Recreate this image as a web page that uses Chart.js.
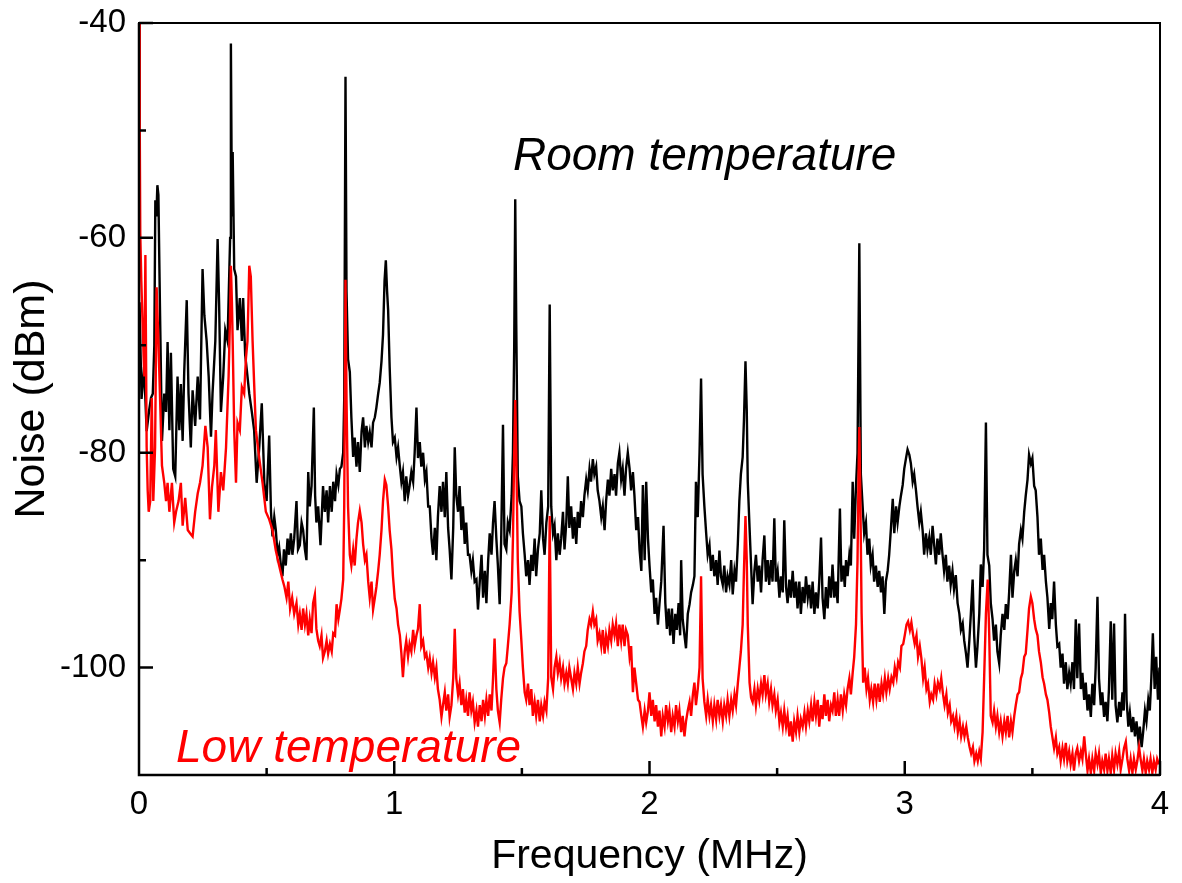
<!DOCTYPE html>
<html lang="en">
<head>
  <meta charset="UTF-8" />
  <title>Noise spectrum</title>
  <script src="https://cdn.jsdelivr.net/npm/chart.js"></script>
  <style>
    html, body {
      margin: 0;
      padding: 0;
      background: #ffffff;
    }
    #wrap {
      width: 1182px;
      height: 883px;
    }
  </style>
</head>
<body>
  <div id="wrap">
    <canvas id="noiseChart" width="1182" height="883"></canvas>
  </div>

<script>
  // ticks
  const xMajorTicks = [0, 1, 2, 3, 4];
  const xMinorTicks = [0.5, 1.5, 2.5, 3.5];
  const yMajorTicks = [-100, -80, -60, -40];
  const yMinorTicks = [-90, -70, -50];

  // [frequency MHz, noise dBm]
  const roomTemp = [
    [0.002,-66],[0.010,-75],[0.020,-72],[0.030,-78],[0.040,-76],[0.047,-74.9],[0.054,-74.5],[0.060,-70],
    [0.064,-56.5],[0.068,-58],[0.072,-55.1],[0.076,-56],[0.082,-66.3],[0.090,-78.9],[0.099,-74.5],[0.106,-76.2],
    [0.112,-69.7],[0.119,-77.9],[0.125,-70.7],[0.134,-81.5],[0.142,-82.2],[0.151,-72.9],[0.158,-77.9],[0.164,-73.6],
    [0.171,-78.9],[0.177,-72.6],[0.187,-65.8],[0.194,-74.5],[0.203,-79.5],[0.210,-74.2],[0.220,-77.5],[0.230,-72.9],
    [0.239,-76.9],[0.249,-62.9],[0.256,-67.2],[0.265,-69.6],[0.273,-72.9],[0.282,-78.5],[0.288,-74.5],[0.299,-69.6],
    [0.308,-60.1],[0.314,-66.3],[0.321,-76.2],[0.330,-72.9],[0.338,-68.6],[0.347,-69.6],[0.354,-62.9],[0.357,-60],
    [0.360,-41.9],[0.364,-58],[0.367,-52.0],[0.373,-62.9],[0.380,-63.6],[0.386,-68.6],[0.395,-65.6],[0.403,-69.6],
    [0.408,-65.6],[0.416,-70.9],[0.425,-72.9],[0.432,-74.5],[0.442,-76.2],[0.451,-77.9],[0.461,-82.8],[0.471,-79.5],
    [0.481,-75.4],[0.491,-82.8],[0.500,-84.5],[0.510,-78.4],[0.517,-85.5],[0.523,-87.8],[0.530,-86],[0.536,-87.2],
    [0.543,-89.5],[0.549,-88.8],[0.556,-90.5],[0.562,-91.5],[0.568,-89],[0.575,-90.5],[0.582,-88],[0.588,-89.5],
    [0.595,-87.5],[0.601,-89.5],[0.608,-88],[0.617,-84.5],[0.623,-89],[0.630,-88.6],[0.637,-86.5],[0.643,-87.2],
    [0.650,-89],[0.656,-90.0],[0.663,-81.8],[0.669,-85.0],[0.676,-83.1],[0.685,-75.8],[0.690,-84],[0.695,-86.5],
    [0.702,-85.0],[0.711,-88.6],[0.721,-83.1],[0.728,-85.5],[0.735,-83.5],[0.741,-86.5],[0.748,-83.1],[0.755,-85.5],
    [0.761,-82.7],[0.768,-84.5],[0.774,-82.0],[0.781,-83],[0.787,-81.5],[0.793,-81.3],[0.800,-80],[0.804,-75],
    [0.809,-45.0],[0.813,-65],[0.819,-71.3],[0.826,-72.5],[0.832,-76.7],[0.839,-80.4],[0.845,-78.6],[0.852,-81.3],
    [0.858,-79],[0.865,-81.8],[0.872,-78],[0.878,-76.7],[0.885,-79.5],[0.891,-77.5],[0.898,-79.0],[0.904,-78.1],
    [0.911,-79.5],[0.917,-77.2],[0.924,-76.7],[0.930,-75.8],[0.937,-74.5],[0.943,-73.5],[0.950,-71.5],[0.956,-69.0],
    [0.962,-64],[0.967,-62.1],[0.972,-65],[0.976,-66.7],[0.982,-72],[0.989,-76.7],[0.995,-79],[1.002,-78.6],
    [1.009,-80.4],[1.015,-79.5],[1.022,-81.3],[1.028,-82.7],[1.034,-81.8],[1.041,-84.5],[1.047,-82.2],[1.054,-84],
    [1.060,-83.1],[1.067,-81.8],[1.074,-82.7],[1.080,-80],[1.087,-75.8],[1.093,-80.5],[1.100,-79.0],[1.106,-81.3],
    [1.113,-80.0],[1.120,-82.5],[1.126,-81.8],[1.133,-85],[1.139,-85.0],[1.146,-88],[1.152,-89.5],[1.159,-87],
    [1.165,-90.0],[1.171,-86],[1.178,-83.1],[1.185,-85.5],[1.191,-82.7],[1.198,-86],[1.204,-81.8],[1.211,-87],
    [1.217,-89],[1.224,-91.8],[1.231,-87],[1.237,-79.5],[1.243,-84],[1.250,-85.5],[1.256,-83.1],[1.263,-87.2],
    [1.269,-85.0],[1.276,-88.5],[1.282,-86.5],[1.289,-89.5],[1.295,-89.5],[1.302,-91],[1.308,-90.0],[1.315,-92],
    [1.322,-91.8],[1.328,-94.6],[1.335,-92],[1.342,-89.5],[1.348,-93.5],[1.355,-91],[1.361,-94],[1.368,-90],
    [1.374,-87.5],[1.381,-89.5],[1.387,-86.5],[1.393,-84.5],[1.400,-88],[1.406,-90.5],[1.413,-94.1],[1.419,-88],
    [1.426,-77.4],[1.432,-88.5],[1.439,-89.0],[1.445,-86.5],[1.452,-87.2],[1.460,-84],[1.465,-80],[1.470,-70],
    [1.474,-56.4],[1.478,-68],[1.484,-82.2],[1.491,-84.5],[1.498,-85.0],[1.504,-87.5],[1.511,-89.5],[1.517,-91.5],
    [1.524,-90],[1.530,-92.3],[1.537,-89.5],[1.543,-91],[1.550,-88],[1.556,-91.5],[1.563,-89],[1.570,-87.5],
    [1.576,-83.5],[1.583,-88],[1.589,-89.5],[1.596,-86.5],[1.603,-85],[1.609,-66.2],[1.615,-85.0],[1.622,-87.5],
    [1.628,-86.8],[1.635,-90],[1.641,-87.5],[1.648,-89.5],[1.654,-88],[1.661,-85.5],[1.667,-89],[1.674,-86.5],
    [1.680,-82.2],[1.686,-87],[1.693,-85.0],[1.700,-88],[1.706,-86],[1.713,-88.5],[1.719,-85.5],[1.726,-87],
    [1.732,-84.5],[1.739,-86],[1.745,-84],[1.752,-82.5],[1.758,-83.5],[1.765,-81.5],[1.771,-82.7],[1.778,-80.6],
    [1.784,-82],[1.791,-81.3],[1.797,-83.5],[1.804,-84.5],[1.811,-86],[1.817,-85.0],[1.824,-87.2],[1.830,-84.5],
    [1.837,-82.5],[1.843,-84],[1.850,-81.5],[1.856,-83.5],[1.863,-82],[1.869,-84],[1.876,-81],[1.882,-80.0],
    [1.889,-82.5],[1.895,-81.5],[1.902,-84],[1.908,-81.5],[1.915,-80.0],[1.922,-81.5],[1.928,-83.5],[1.935,-81.8],
    [1.941,-84],[1.948,-87.2],[1.955,-86],[1.961,-89],[1.968,-91],[1.974,-83],[1.981,-90],[1.987,-82.7],
    [1.994,-88],[2.000,-90.5],[2.007,-93],[2.013,-91.8],[2.020,-95],[2.026,-93.5],[2.033,-96],[2.039,-94.1],
    [2.046,-92],[2.055,-86.8],[2.062,-94],[2.068,-96.4],[2.075,-94.5],[2.081,-97],[2.088,-94.5],[2.094,-97.8],
    [2.101,-95],[2.107,-96.5],[2.114,-94],[2.120,-97],[2.124,-90.0],[2.130,-95.5],[2.137,-97],[2.143,-98.2],
    [2.150,-95],[2.157,-94.1],[2.163,-93],[2.170,-92.3],[2.176,-91.5],[2.182,-82.7],[2.189,-86],[2.196,-80],
    [2.202,-73.1],[2.208,-82],[2.215,-85.0],[2.222,-87.5],[2.228,-89.5],[2.235,-88.6],[2.241,-91],[2.248,-89.5],
    [2.254,-91.5],[2.261,-90],[2.267,-92.3],[2.274,-89.1],[2.280,-91.5],[2.287,-92.3],[2.293,-90.5],[2.300,-93],
    [2.306,-91.5],[2.313,-92.3],[2.320,-90],[2.326,-93.2],[2.333,-91],[2.339,-92],[2.346,-88.5],[2.352,-84.5],
    [2.358,-82],[2.365,-80.4],[2.370,-77],[2.376,-71.5],[2.381,-76],[2.385,-82.7],[2.392,-87],[2.398,-90.5],
    [2.404,-94.1],[2.411,-91],[2.417,-89.5],[2.424,-92],[2.430,-90.5],[2.437,-93],[2.443,-90],[2.450,-87.7],
    [2.456,-92],[2.463,-90],[2.469,-92.3],[2.476,-90],[2.482,-92],[2.489,-86.1],[2.495,-92],[2.502,-91],
    [2.509,-93.5],[2.515,-91.5],[2.522,-93],[2.528,-86.3],[2.535,-92.5],[2.541,-94],[2.548,-91.8],[2.554,-93.5],
    [2.561,-91],[2.567,-93.5],[2.574,-92],[2.580,-94.5],[2.587,-92],[2.593,-95],[2.600,-92.5],[2.607,-94],
    [2.613,-91.5],[2.620,-93.5],[2.626,-92.3],[2.633,-94.5],[2.639,-92],[2.646,-95],[2.652,-93],[2.659,-94.5],
    [2.665,-92],[2.672,-87.9],[2.678,-93.5],[2.685,-95.5],[2.691,-92.5],[2.698,-94.5],[2.704,-91.5],[2.711,-93.5],
    [2.717,-90.4],[2.724,-93.5],[2.730,-92],[2.737,-94],[2.746,-85.2],[2.752,-92],[2.759,-90.5],[2.765,-92.5],
    [2.770,-90],[2.776,-91.5],[2.783,-89.5],[2.789,-90.5],[2.796,-82.7],[2.802,-88],[2.809,-83.1],[2.815,-80],
    [2.822,-60.5],[2.828,-82],[2.835,-85.0],[2.841,-87.5],[2.848,-86.5],[2.854,-89.5],[2.861,-88],[2.867,-90.5],
    [2.874,-89.5],[2.880,-92],[2.887,-90.5],[2.894,-92.5],[2.900,-91],[2.907,-93],[2.913,-91.5],[2.920,-95.0],
    [2.926,-92],[2.933,-91],[2.939,-89.5],[2.946,-87],[2.953,-84.3],[2.959,-87.5],[2.966,-85.0],[2.972,-86.5],
    [2.979,-85],[2.985,-84],[2.992,-83],[2.998,-81.5],[3.005,-80.5],[3.011,-79.7],[3.018,-80.2],[3.024,-81],
    [3.031,-82.7],[3.037,-82],[3.044,-83.5],[3.050,-85],[3.057,-86.5],[3.063,-85.5],[3.070,-87.2],[3.076,-89.5],
    [3.083,-87.5],[3.089,-89],[3.096,-87.9],[3.102,-89.5],[3.109,-86.8],[3.115,-88.5],[3.122,-90.4],[3.128,-88],
    [3.135,-89.5],[3.141,-87.5],[3.148,-89.5],[3.154,-91],[3.161,-89.5],[3.167,-92],[3.174,-90.5],[3.180,-92.3],
    [3.187,-91],[3.193,-92.7],[3.200,-91.4],[3.207,-94],[3.214,-95],[3.220,-96.5],[3.227,-95.9],[3.233,-97.5],
    [3.240,-98.7],[3.246,-100],[3.253,-97.5],[3.259,-95],[3.266,-91.8],[3.272,-97],[3.279,-100],[3.285,-98],
    [3.292,-95],[3.298,-90.4],[3.305,-92.5],[3.311,-89],[3.318,-77.2],[3.324,-89.5],[3.331,-90.5],[3.337,-94],
    [3.344,-95.5],[3.350,-97.5],[3.357,-96],[3.363,-98.5],[3.370,-99.6],[3.376,-97],[3.383,-95],[3.390,-96.5],
    [3.396,-94.1],[3.403,-95.5],[3.409,-93],[3.416,-89.5],[3.422,-93.5],[3.429,-91],[3.435,-90],[3.442,-91.5],
    [3.448,-88.5],[3.455,-87.2],[3.461,-88],[3.468,-85.5],[3.474,-84],[3.481,-82.5],[3.487,-80.2],[3.494,-81],
    [3.500,-80.5],[3.507,-83.1],[3.513,-83.5],[3.520,-86],[3.526,-89.5],[3.533,-88],[3.540,-90.9],[3.546,-89.5],
    [3.553,-92],[3.559,-93.5],[3.566,-96.4],[3.572,-94],[3.578,-95.5],[3.585,-92.0],[3.592,-96],[3.598,-98],
    [3.605,-97.8],[3.611,-100],[3.618,-98.7],[3.624,-101.5],[3.631,-99.5],[3.637,-102],[3.644,-100.5],[3.650,-101.5],
    [3.657,-99.5],[3.663,-102],[3.670,-95.5],[3.676,-101],[3.683,-95.9],[3.690,-102],[3.696,-100.5],[3.703,-103],
    [3.709,-101.4],[3.716,-104],[3.722,-102.5],[3.729,-104.6],[3.735,-101.5],[3.742,-103.5],[3.748,-100],[3.755,-93.4],
    [3.761,-101],[3.768,-103.5],[3.774,-102.3],[3.781,-104.6],[3.787,-103.2],[3.794,-105],[3.800,-102],[3.807,-95.7],
    [3.813,-103],[3.820,-95.9],[3.826,-103.5],[3.833,-105.1],[3.840,-103.2],[3.846,-104.6],[3.853,-102.3],[3.858,-104],
    [3.863,-95.0],[3.869,-103],[3.876,-105.5],[3.882,-104.2],[3.889,-106],[3.895,-104.6],[3.902,-106.4],[3.908,-105],
    [3.915,-106.8],[3.921,-105.5],[3.928,-107.4],[3.934,-106],[3.941,-104],[3.947,-105],[3.954,-103],[3.960,-104],
    [3.966,-101],[3.972,-96.8],[3.979,-102],[3.985,-99],[3.992,-103],[3.998,-100]
  ];

  const lowTemp = [
    [0.000,-40],[0.003,-50],[0.005,-59.6],[0.009,-64],[0.014,-67.9],[0.018,-71],[0.021,-72.9],[0.025,-61.6],
    [0.030,-79.5],[0.034,-83.5],[0.038,-85.5],[0.044,-84.5],[0.050,-74.9],[0.056,-84.5],[0.063,-79.5],[0.069,-64.6],
    [0.076,-69.6],[0.082,-74.5],[0.090,-81.2],[0.099,-82.8],[0.106,-84.5],[0.112,-82.8],[0.119,-85.5],[0.129,-82.8],
    [0.138,-86.5],[0.145,-85.5],[0.155,-84.5],[0.164,-82.8],[0.171,-86.8],[0.181,-84.2],[0.191,-87.2],[0.200,-87.5],
    [0.210,-87.8],[0.220,-85.5],[0.230,-83.8],[0.239,-82.8],[0.249,-81.2],[0.260,-77.5],[0.269,-79.5],[0.278,-86.2],
    [0.286,-83.2],[0.295,-81.2],[0.301,-77.9],[0.311,-85.5],[0.321,-81.8],[0.330,-83.5],[0.341,-79.5],[0.351,-72.9],
    [0.356,-68],[0.360,-62.6],[0.364,-66],[0.367,-69.6],[0.373,-77.9],[0.380,-82.8],[0.386,-77.2],[0.395,-77.9],
    [0.403,-73.9],[0.412,-74.5],[0.419,-71.2],[0.425,-69.6],[0.432,-62.6],[0.438,-63.6],[0.445,-69.6],[0.451,-73.5],
    [0.458,-77.9],[0.471,-80.5],[0.484,-82.8],[0.497,-85.5],[0.510,-86.2],[0.523,-87.2],[0.536,-89.1],[0.549,-90.5],
    [0.562,-91.8],[0.570,-92.5],[0.578,-93.5],[0.585,-92],[0.592,-94.5],[0.600,-93.5],[0.608,-95],[0.617,-94],
    [0.624,-96],[0.630,-95],[0.637,-96.5],[0.643,-94.5],[0.650,-96],[0.656,-95],[0.663,-97],[0.669,-95.5],
    [0.676,-96.8],[0.682,-94],[0.689,-93.2],[0.695,-96.4],[0.702,-97.5],[0.708,-98],[0.715,-97],[0.721,-99.1],
    [0.728,-98.5],[0.735,-97.5],[0.741,-98.7],[0.748,-97.8],[0.755,-98.5],[0.761,-96.8],[0.768,-97],[0.774,-94.1],
    [0.781,-95.5],[0.787,-94.6],[0.793,-93.6],[0.800,-91.8],[0.804,-85],[0.809,-63.9],[0.813,-75],[0.819,-85.0],
    [0.826,-89.5],[0.832,-90.5],[0.839,-89],[0.845,-90.5],[0.852,-88],[0.858,-86.5],[0.865,-85.4],[0.872,-86.5],
    [0.878,-88.5],[0.885,-90],[0.891,-89.5],[0.898,-92],[0.904,-93.5],[0.911,-92],[0.917,-94.6],[0.924,-93.5],
    [0.930,-92.5],[0.937,-91],[0.943,-89.5],[0.950,-87.2],[0.956,-84.5],[0.963,-82.5],[0.969,-83],[0.976,-85],
    [0.982,-87.2],[0.989,-89],[0.995,-91.5],[1.002,-93.6],[1.009,-94.5],[1.015,-96],[1.022,-97],[1.028,-98.7],
    [1.034,-100.9],[1.041,-98.5],[1.047,-97.5],[1.054,-99],[1.060,-97.8],[1.067,-98.5],[1.074,-96.5],[1.080,-98],
    [1.087,-97],[1.093,-96.4],[1.100,-94.1],[1.106,-98],[1.113,-97.5],[1.120,-99],[1.126,-98.7],[1.133,-100],
    [1.139,-99.1],[1.146,-100.5],[1.152,-99.5],[1.159,-100.9],[1.165,-100],[1.171,-102],[1.178,-103],[1.185,-104.6],
    [1.191,-103.5],[1.198,-102.3],[1.204,-104],[1.211,-102.5],[1.217,-104.6],[1.224,-103.5],[1.231,-101],[1.237,-96.4],
    [1.243,-101],[1.250,-102.5],[1.256,-101.5],[1.263,-103.5],[1.269,-102],[1.276,-104.2],[1.282,-103],[1.289,-104.5],
    [1.295,-102.3],[1.302,-104],[1.308,-103.2],[1.315,-105.1],[1.322,-104],[1.328,-105.5],[1.335,-103.5],[1.342,-105],
    [1.348,-103],[1.355,-104.5],[1.361,-103],[1.368,-104.5],[1.374,-102.5],[1.381,-104],[1.387,-101],[1.393,-97.3],
    [1.400,-102],[1.406,-104],[1.413,-105.1],[1.419,-103],[1.426,-101],[1.432,-100],[1.439,-99.6],[1.445,-98],
    [1.452,-96],[1.460,-93],[1.465,-88],[1.470,-80],[1.474,-75.1],[1.478,-80],[1.484,-90],[1.491,-94.8],
    [1.498,-97.5],[1.504,-100],[1.511,-102.3],[1.517,-103],[1.524,-101.5],[1.530,-103.5],[1.537,-102],[1.543,-104.5],
    [1.550,-103.2],[1.556,-104.5],[1.563,-103],[1.570,-105],[1.576,-103.5],[1.583,-104.5],[1.589,-103.2],[1.596,-104],
    [1.603,-101],[1.609,-85.9],[1.615,-100.9],[1.622,-102],[1.628,-100],[1.635,-99],[1.641,-100.5],[1.648,-99.5],
    [1.654,-101],[1.661,-100],[1.667,-101.5],[1.674,-100.5],[1.680,-101.5],[1.686,-100],[1.693,-101],[1.700,-102],
    [1.706,-100.5],[1.713,-101.5],[1.719,-100],[1.726,-101.5],[1.732,-100.5],[1.739,-99.6],[1.745,-98.5],[1.752,-98],
    [1.758,-96.5],[1.765,-95.5],[1.771,-96],[1.778,-94.8],[1.784,-96],[1.791,-95.5],[1.797,-97.5],[1.804,-96.8],
    [1.811,-98],[1.817,-96.5],[1.824,-98.7],[1.830,-97],[1.837,-98],[1.843,-96.5],[1.850,-97.5],[1.856,-96],
    [1.863,-97],[1.869,-95.9],[1.876,-98],[1.882,-96],[1.889,-97.5],[1.895,-96],[1.902,-98],[1.908,-96.5],
    [1.915,-97],[1.922,-99],[1.928,-98],[1.935,-102.3],[1.941,-100],[1.948,-101.5],[1.955,-103],[1.961,-103.2],
    [1.968,-104.5],[1.974,-105.5],[1.981,-104],[1.987,-105.1],[1.994,-104],[2.000,-102.3],[2.007,-104.5],[2.013,-103],
    [2.020,-105],[2.026,-103.5],[2.033,-105.5],[2.039,-104],[2.046,-106.4],[2.052,-104.5],[2.059,-105.5],[2.065,-103.5],
    [2.072,-105],[2.078,-104],[2.085,-106],[2.091,-104.5],[2.098,-105.5],[2.104,-103.5],[2.111,-105],[2.117,-104],
    [2.124,-106],[2.130,-104.5],[2.137,-106.4],[2.143,-105],[2.150,-104],[2.157,-103.2],[2.163,-104.5],[2.170,-102.5],
    [2.176,-101.4],[2.182,-103.5],[2.189,-102],[2.196,-100],[2.202,-91.5],[2.208,-101],[2.215,-103.2],[2.222,-104.5],
    [2.228,-103],[2.235,-104.5],[2.241,-103.5],[2.248,-105],[2.254,-103.5],[2.261,-104.8],[2.267,-103],[2.274,-104.5],
    [2.280,-103.5],[2.287,-105],[2.293,-103.5],[2.300,-104.5],[2.306,-103],[2.313,-104.5],[2.320,-103],[2.326,-104],
    [2.333,-102.5],[2.339,-103.5],[2.346,-101.5],[2.352,-100],[2.358,-98.5],[2.365,-96],[2.370,-91],[2.376,-85.9],
    [2.381,-90],[2.385,-96],[2.392,-101.4],[2.398,-102.8],[2.404,-103.2],[2.411,-102],[2.417,-103.5],[2.424,-102],
    [2.430,-103],[2.437,-101.5],[2.443,-102.5],[2.450,-100.7],[2.456,-102.5],[2.463,-101.5],[2.469,-103.2],[2.476,-102],
    [2.482,-103.5],[2.489,-102.5],[2.495,-104],[2.502,-103],[2.509,-105.1],[2.515,-104.2],[2.522,-105.5],[2.528,-104],
    [2.535,-105.5],[2.541,-104.5],[2.548,-106.4],[2.554,-105],[2.561,-106.9],[2.567,-105],[2.574,-106],[2.580,-104.5],
    [2.587,-106],[2.593,-104.8],[2.600,-105.5],[2.607,-104.2],[2.613,-105.5],[2.620,-104],[2.626,-105],[2.633,-103.5],
    [2.639,-105],[2.646,-103.2],[2.652,-104.5],[2.659,-103],[2.665,-105.5],[2.672,-103.5],[2.678,-104.8],[2.685,-102.5],
    [2.691,-104.5],[2.698,-103],[2.704,-105],[2.711,-103.5],[2.717,-104],[2.724,-102.3],[2.730,-104.5],[2.737,-103],
    [2.743,-104.5],[2.750,-102.5],[2.757,-104],[2.763,-102.5],[2.770,-103.5],[2.776,-102],[2.783,-101],[2.789,-102.5],
    [2.796,-100.5],[2.802,-99],[2.809,-96],[2.815,-90],[2.819,-82],[2.822,-77.6],[2.826,-84],[2.831,-95],
    [2.837,-101.4],[2.843,-100],[2.850,-102],[2.856,-101],[2.863,-103],[2.869,-102],[2.876,-103.2],[2.882,-101.5],
    [2.889,-103],[2.896,-101.5],[2.902,-103.2],[2.909,-101.5],[2.915,-102.5],[2.922,-101],[2.928,-102.3],[2.935,-101],
    [2.941,-102],[2.948,-100.9],[2.955,-101.4],[2.961,-100],[2.968,-100.9],[2.974,-99.5],[2.981,-100],[2.987,-98],
    [2.994,-97.8],[3.000,-97],[3.007,-96],[3.013,-95.7],[3.020,-96.5],[3.026,-95.8],[3.033,-97],[3.039,-97.8],
    [3.046,-97],[3.052,-99],[3.059,-98],[3.065,-99.1],[3.072,-101],[3.078,-100],[3.085,-102],[3.091,-101.5],
    [3.098,-103.2],[3.104,-102.5],[3.111,-103],[3.117,-101.5],[3.124,-102.5],[3.130,-101.4],[3.137,-102],[3.143,-101],
    [3.150,-102.5],[3.156,-103.5],[3.163,-102.5],[3.169,-104.2],[3.176,-103.5],[3.182,-105],[3.189,-104.5],[3.195,-105.5],
    [3.202,-104.5],[3.208,-106],[3.215,-105],[3.221,-106.4],[3.228,-105.5],[3.234,-106.4],[3.241,-105.5],[3.247,-106.5],
    [3.254,-107.4],[3.260,-108],[3.267,-107.4],[3.273,-108.7],[3.280,-108],[3.286,-108.7],[3.292,-107.8],[3.298,-108.5],
    [3.305,-106],[3.311,-101],[3.318,-95],[3.325,-91.8],[3.331,-97],[3.337,-104.5],[3.344,-105.1],[3.350,-104],
    [3.357,-105.5],[3.363,-104.5],[3.370,-106],[3.376,-105],[3.383,-106.4],[3.390,-105],[3.396,-106],[3.403,-104.5],
    [3.409,-106.5],[3.416,-105],[3.422,-106],[3.429,-104.5],[3.435,-103.5],[3.442,-102.5],[3.448,-102.3],[3.455,-101],
    [3.461,-100.5],[3.468,-99],[3.474,-98.7],[3.481,-96.5],[3.487,-94.5],[3.494,-93.4],[3.500,-94],[3.507,-95.5],
    [3.513,-96.4],[3.520,-97],[3.526,-98.5],[3.533,-99.5],[3.540,-100.9],[3.546,-101.5],[3.553,-102.5],[3.559,-103],
    [3.566,-104.2],[3.572,-105.5],[3.578,-106.4],[3.585,-107.5],[3.592,-106.5],[3.598,-108],[3.605,-107.4],[3.611,-108.7],
    [3.618,-107.5],[3.624,-108.5],[3.631,-107],[3.637,-108.7],[3.644,-107.8],[3.650,-109],[3.657,-108],[3.663,-109.6],
    [3.670,-108],[3.676,-107.5],[3.683,-108.7],[3.690,-107.8],[3.696,-108.5],[3.703,-106.4],[3.709,-108],[3.716,-109.6],
    [3.722,-108.5],[3.729,-109.8],[3.735,-108.5],[3.742,-109.6],[3.748,-108],[3.755,-109],[3.761,-108],[3.768,-109.8],
    [3.774,-108.7],[3.781,-109.5],[3.787,-108],[3.794,-109.6],[3.800,-108.5],[3.807,-109.8],[3.813,-108.2],[3.820,-109.5],
    [3.826,-108],[3.833,-109],[3.840,-107.8],[3.846,-109.5],[3.853,-108.5],[3.859,-107.5],[3.866,-106.9],[3.872,-108.5],
    [3.879,-109.6],[3.885,-108.5],[3.892,-109.8],[3.898,-108.5],[3.905,-109.5],[3.911,-108.7],[3.918,-107.4],[3.924,-108.5],
    [3.931,-109.6],[3.937,-108.5],[3.944,-109.8],[3.950,-108.7],[3.957,-109.5],[3.963,-108.5],[3.970,-109.8],[3.976,-108.7],
    [3.983,-109.5],[3.989,-108.5],[3.996,-109]
  ];

  // where the two curve labels sit (MHz, dBm of the text baseline)
  const roomLabelAt = [1.465, -53.7];
  const lowLabelAt = [0.145, -108.8];

  const fontFamily = '"Liberation Sans", Arial, Helvetica, sans-serif';
  Chart.defaults.font.family = fontFamily;
  Chart.defaults.color = '#000000';

  // frame around the plot plus inward major/minor ticks
  const frameTicks = {
    id: 'frameTicks',
    afterDatasetsDraw(chart) {
      const {ctx, chartArea: a, scales: {x, y}} = chart;
      ctx.save();
      ctx.strokeStyle = '#000000';
      ctx.lineWidth = 2;
      ctx.strokeRect(a.left, a.top, a.right - a.left, a.bottom - a.top);
      ctx.lineWidth = 2.5;
      ctx.beginPath();
      ctx.moveTo(a.left, a.top);
      ctx.lineTo(a.left, a.bottom);
      ctx.lineTo(a.right, a.bottom);
      xMajorTicks.forEach(v => {
        const px = x.getPixelForValue(v);
        ctx.moveTo(px, a.bottom);
        ctx.lineTo(px, a.bottom - 14);
      });
      xMinorTicks.forEach(v => {
        const px = x.getPixelForValue(v);
        ctx.moveTo(px, a.bottom);
        ctx.lineTo(px, a.bottom - 7);
      });
      yMajorTicks.forEach(v => {
        const py = y.getPixelForValue(v);
        ctx.moveTo(a.left, py);
        ctx.lineTo(a.left + 14, py);
      });
      yMinorTicks.forEach(v => {
        const py = y.getPixelForValue(v);
        ctx.moveTo(a.left, py);
        ctx.lineTo(a.left + 7, py);
      });
      ctx.stroke();
      ctx.restore();
    }
  };

  const curveLabels = {
    id: 'curveLabels',
    afterDatasetsDraw(chart) {
      const {ctx, scales: {x, y}} = chart;
      ctx.save();
      ctx.font = 'italic 46px ' + fontFamily;
      ctx.textAlign = 'left';
      ctx.textBaseline = 'alphabetic';
      ctx.fillStyle = '#000000';
      ctx.fillText('Room temperature', x.getPixelForValue(roomLabelAt[0]), y.getPixelForValue(roomLabelAt[1]));
      ctx.fillStyle = '#ff0000';
      ctx.fillText('Low temperature', x.getPixelForValue(lowLabelAt[0]), y.getPixelForValue(lowLabelAt[1]));
      ctx.restore();
    }
  };

  const toPoints = arr => arr.map(p => ({x: p[0], y: p[1]}));

  new Chart(document.getElementById('noiseChart'), {
    type: 'line',
    data: {
      datasets: [
        {
          label: 'Room temperature',
          data: toPoints(roomTemp),
          borderColor: '#000000',
          borderWidth: 2.4,
          pointRadius: 0,
          tension: 0,
          fill: false,
          order: 2
        },
        {
          label: 'Low temperature',
          data: toPoints(lowTemp),
          borderColor: '#ff0000',
          borderWidth: 2.4,
          pointRadius: 0,
          tension: 0,
          fill: false,
          order: 1
        }
      ]
    },
    options: {
      responsive: false,
      animation: false,
      layout: {
        padding: {top: 23, right: 22, left: 0, bottom: 0}
      },
      plugins: {
        legend: {display: false},
        tooltip: {enabled: false}
      },
      scales: {
        x: {
          type: 'linear',
          min: 0,
          max: 4,
          afterBuildTicks: axis => { axis.ticks = xMajorTicks.map(v => ({value: v})); },
          afterFit: axis => {
            axis.height = 108;
            axis.paddingLeft = 0;
            axis.paddingRight = 0;
          },
          grid: {display: false, drawTicks: false},
          border: {display: false},
          ticks: {
            padding: 10,
            maxRotation: 0,
            color: '#000000',
            font: {size: 33},
            callback: v => String(v)
          },
          title: {
            display: true,
            text: 'Frequency (MHz)',
            color: '#000000',
            font: {size: 41},
            padding: {top: 0, bottom: 2}
          }
        },
        y: {
          type: 'linear',
          min: -110,
          max: -40,
          afterBuildTicks: axis => { axis.ticks = yMajorTicks.map(v => ({value: v})); },
          afterFit: axis => {
            axis.width = 139;
            axis.paddingTop = 0;
            axis.paddingBottom = 0;
          },
          grid: {display: false, drawTicks: false},
          border: {display: false},
          ticks: {
            padding: 13,
            color: '#000000',
            font: {size: 33},
            callback: v => String(v)
          },
          title: {
            display: true,
            text: 'Noise (dBm)',
            color: '#000000',
            font: {size: 43},
            padding: {top: 6, bottom: 0}
          }
        }
      }
    },
    plugins: [frameTicks, curveLabels]
  });
</script>
</body>
</html>
